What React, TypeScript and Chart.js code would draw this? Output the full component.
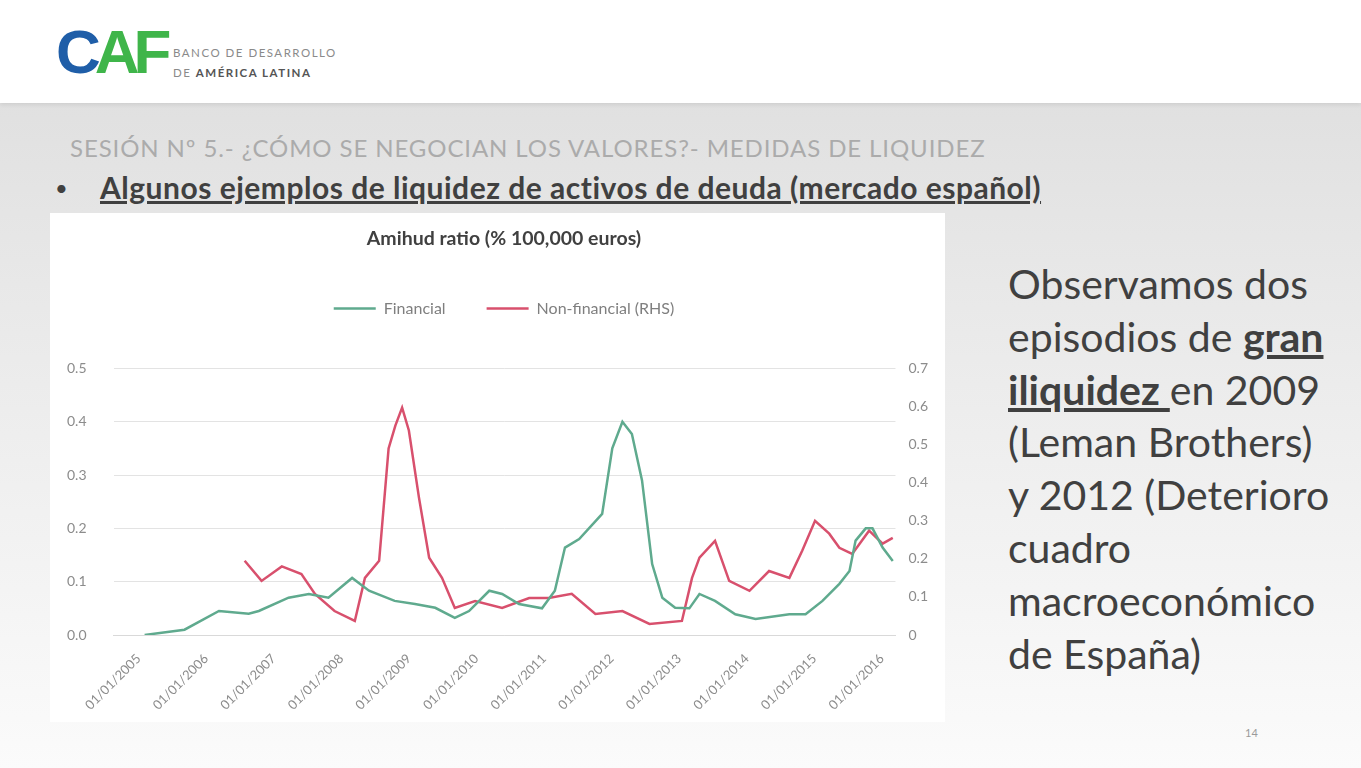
import React, { useEffect, useRef } from "react";
import { Chart, registerables } from "chart.js";

Chart.register(...registerables);

// ---- Data ----
const chartTitle = "Amihud ratio (% 100,000 euros)";
const seriesNames = ["Financial", "Non-financial (RHS)"];

// x-axis tick positions (years) and their labels
const tickYears = [2005, 2006, 2007, 2008, 2009, 2010, 2011, 2012, 2013, 2014, 2015, 2016];
const tickLabels = [
  "01/01/2005", "01/01/2006", "01/01/2007", "01/01/2008", "01/01/2009", "01/01/2010",
  "01/01/2011", "01/01/2012", "01/01/2013", "01/01/2014", "01/01/2015", "01/01/2016",
];
const xMin = 2004.63;
const xMax = 2016.2;

// Financial (left axis)
const financialDates = [
  2005.09, 2005.68, 2006.19, 2006.63, 2006.78, 2007.22, 2007.52, 2007.81, 2008.16, 2008.41,
  2008.79, 2009.09, 2009.39, 2009.68, 2009.89, 2010.19, 2010.38, 2010.63, 2010.97, 2011.16,
  2011.31, 2011.52, 2011.86, 2012.01, 2012.16, 2012.3, 2012.45, 2012.6, 2012.75, 2012.94,
  2013.15, 2013.3, 2013.53, 2013.83, 2014.13, 2014.63, 2014.87, 2015.12, 2015.37, 2015.52,
  2015.61, 2015.76, 2015.86, 2016.01, 2016.16,
];
const financialValues = [
  0.0, 0.01, 0.045, 0.04, 0.045, 0.07, 0.077, 0.07, 0.107, 0.083,
  0.064, 0.058, 0.051, 0.032, 0.045, 0.083, 0.077, 0.058, 0.05, 0.083,
  0.164, 0.18, 0.227, 0.35, 0.4, 0.377, 0.29, 0.133, 0.07, 0.051,
  0.05, 0.077, 0.064, 0.039, 0.03, 0.039, 0.039, 0.064, 0.096, 0.12,
  0.177, 0.2, 0.2, 0.164, 0.139,
];

// Non-financial (right axis)
const nonFinancialDates = [
  2006.57, 2006.82, 2007.12, 2007.41, 2007.61, 2007.9, 2008.2, 2008.35, 2008.56, 2008.7,
  2008.8, 2008.9, 2009.0, 2009.15, 2009.3, 2009.49, 2009.68, 2009.98, 2010.38, 2010.78,
  2011.07, 2011.41, 2011.76, 2012.16, 2012.56, 2013.04, 2013.19, 2013.3, 2013.53, 2013.74,
  2014.04, 2014.33, 2014.63, 2014.82, 2015.01, 2015.22, 2015.37, 2015.56, 2015.81, 2016.01,
  2016.16,
];
const nonFinancialValues = [
  0.195, 0.142, 0.18, 0.16, 0.108, 0.063, 0.037, 0.15, 0.195, 0.49,
  0.55, 0.597, 0.537, 0.36, 0.203, 0.15, 0.071, 0.089, 0.071, 0.097,
  0.097, 0.108, 0.055, 0.063, 0.029, 0.037, 0.15, 0.203, 0.247, 0.142,
  0.116, 0.168, 0.15, 0.221, 0.3, 0.266, 0.229, 0.213, 0.274, 0.24,
  0.255,
];

const leftMax = 0.5;
const rightMax = 0.7;

const GREEN = "#5faa8e";
const RED = "#d8506d";
const AXIS_TEXT = "#8c8c8c";
const FONT = "Lato, 'Open Sans', sans-serif";
const LEFT_TICK_PAD = 27;

// adds empty space between the legend and the plot area
const legendGap = {
  id: "legendGap",
  beforeUpdate(chart: any) {
    const lg = chart.legend;
    if (lg && !lg._gapPatched) {
      const orig = lg.fit;
      lg.fit = function () {
        orig.call(this);
        this.height += 42;
      };
      lg._gapPatched = true;
    }
  },
};

function AmihudChart() {
  const ref = useRef<HTMLCanvasElement | null>(null);
  useEffect(() => {
    if (!ref.current) return;
    const chart = new Chart(ref.current, {
      type: "line",
      data: {
        datasets: [
          {
            label: seriesNames[0],
            data: financialDates.map((d, i) => ({ x: d, y: financialValues[i] })),
            borderColor: GREEN,
            backgroundColor: GREEN,
            borderWidth: 2.5,
            pointRadius: 0,
            tension: 0,
            yAxisID: "y",
          },
          {
            label: seriesNames[1],
            data: nonFinancialDates.map((d, i) => ({ x: d, y: nonFinancialValues[i] })),
            borderColor: RED,
            backgroundColor: RED,
            borderWidth: 2.5,
            pointRadius: 0,
            tension: 0,
            yAxisID: "y1",
          },
        ],
      },
      options: {
        animation: false,
        responsive: false,
        maintainAspectRatio: false,
        layout: { padding: { left: 17, right: 4, top: 0, bottom: 1 } },
        plugins: {
          title: {
            display: true,
            text: chartTitle,
            color: "#404040",
            font: { family: FONT, size: 19.5, weight: "bold" },
            padding: { top: 14.5, bottom: 8.5 },
          },
          legend: {
            display: true,
            labels: {
              usePointStyle: true,
              pointStyle: "line",
              pointStyleWidth: 42,
              color: "#7f7f7f",
              font: { family: FONT, size: 16 },
              padding: 41,
            },
          },
          tooltip: { enabled: false },
        },
        scales: {
          x: {
            type: "linear",
            min: xMin,
            max: xMax,
            afterBuildTicks: (scale: any) => {
              scale.ticks = tickYears.map((v) => ({ value: v }));
            },
            ticks: {
              autoSkip: false,
              minRotation: 45,
              maxRotation: 45,
              padding: 8,
              color: AXIS_TEXT,
              font: { family: FONT, size: 13 },
              callback: (_v: any, i: number) => tickLabels[i],
            },
            grid: { display: false },
            border: { display: true, color: "#d9d9d9", width: 1 },
          },
          y: {
            position: "left",
            min: 0,
            max: leftMax,
            afterFit: (scale: any) => {
              // only keep the padding between labels and plot
              scale.width -= LEFT_TICK_PAD;
            },
            ticks: {
              stepSize: 0.1,
              padding: LEFT_TICK_PAD,
              color: AXIS_TEXT,
              font: { family: FONT, size: 14 },
              callback: (v: any) => Number(v).toFixed(1),
            },
            grid: { color: "#e3e3e3", drawTicks: false },
            border: { display: false },
          },
          y1: {
            position: "right",
            min: 0,
            max: rightMax,
            ticks: {
              stepSize: 0.1,
              padding: 13,
              color: AXIS_TEXT,
              font: { family: FONT, size: 14 },
              callback: (v: any) => (Number(v) === 0 ? "0" : Number(v).toFixed(1)),
            },
            grid: { drawOnChartArea: false, drawTicks: false },
            border: { display: false },
          },
        },
      },
      plugins: [legendGap],
    } as any);
    return () => chart.destroy();
  }, []);
  return <canvas ref={ref} width={895} height={509} style={{ display: "block" }} />;
}

export default function App() {
  const textColor = "#404040";
  return (
    <div
      style={{
        position: "fixed",
        left: 0,
        top: 0,
        width: 1361,
        height: 768,
        overflow: "hidden",
        fontFamily: FONT,
        background: "linear-gradient(to bottom, #dcdcdc 0%, #e9e9e9 40%, #fbfbfb 100%)",
      }}
    >
      {/* header */}
      <div
        style={{
          position: "absolute",
          left: 0,
          top: 0,
          width: 1361,
          height: 103,
          background: "#ffffff",
          boxShadow: "0 2px 4px rgba(0,0,0,0.08)",
        }}
      >
        <div
          style={{
            position: "absolute",
            left: 56,
            top: 12,
            fontFamily: "'Liberation Sans', Arial, sans-serif",
            fontWeight: 900,
            fontSize: 62,
            letterSpacing: -6,
            lineHeight: "80px",
          }}
        >
          <span style={{ color: "#1f5ea8" }}>C</span>
          <span style={{ color: "#3fb54a" }}>AF</span>
        </div>
        <div
          style={{
            position: "absolute",
            left: 173,
            top: 43,
            fontSize: 11.5,
            lineHeight: "20px",
            color: "#8a8a8a",
            letterSpacing: 1.5,
          }}
        >
          <div>BANCO DE DESARROLLO</div>
          <div>
            DE <b style={{ color: "#555" }}>AMÉRICA LATINA</b>
          </div>
        </div>
      </div>

      {/* section heading */}
      <div
        style={{
          position: "absolute",
          left: 70,
          top: 133,
          fontSize: 24,
          letterSpacing: 0.9,
          lineHeight: "30px",
          color: "#ababab",
          whiteSpace: "nowrap",
        }}
      >
        SESIÓN Nº 5.- ¿CÓMO SE NEGOCIAN LOS VALORES?- MEDIDAS DE LIQUIDEZ
      </div>

      {/* bullet */}
      <div
        style={{
          position: "absolute",
          left: 55,
          top: 171,
          fontSize: 22,
          lineHeight: "34px",
          color: textColor,
        }}
      >
        •
      </div>
      <div
        style={{
          position: "absolute",
          left: 100,
          top: 169,
          fontSize: 30,
          letterSpacing: 0.5,
          lineHeight: "36px",
          fontWeight: 700,
          color: textColor,
          textDecoration: "underline",
          whiteSpace: "nowrap",
        }}
      >
        Algunos ejemplos de liquidez de activos de deuda (mercado español)
      </div>

      {/* chart box */}
      <div
        style={{
          position: "absolute",
          left: 50,
          top: 213,
          width: 895,
          height: 509,
          background: "#ffffff",
        }}
      >
        <AmihudChart />
      </div>

      {/* right-hand commentary */}
      <div
        style={{
          position: "absolute",
          left: 1008,
          top: 258,
          fontSize: 41,
          lineHeight: "52.8px",
          color: textColor,
          whiteSpace: "nowrap",
        }}
      >
        Observamos dos
        <br />
        episodios de{" "}
        <b style={{ textDecoration: "underline" }}>gran</b>
        <br />
        <b style={{ textDecoration: "underline" }}>iliquidez </b>en 2009
        <br />
        (Leman Brothers)
        <br />
        y 2012 (Deterioro
        <br />
        cuadro
        <br />
        macroeconómico
        <br />
        de España)
      </div>

      {/* page number */}
      <div
        style={{
          position: "absolute",
          left: 1245,
          top: 726,
          fontSize: 11,
          color: "#9a9a9a",
        }}
      >
        14
      </div>
    </div>
  );
}
